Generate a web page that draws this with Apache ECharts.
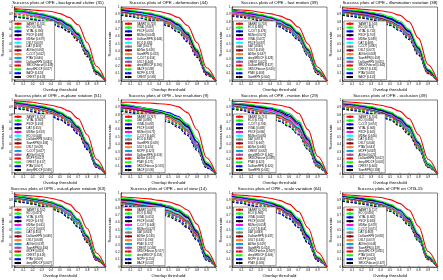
<!DOCTYPE html>
<html><head><meta charset="utf-8">
<script src="https://cdn.jsdelivr.net/npm/echarts@6/dist/echarts.min.js"></script>
<style>html,body{margin:0;padding:0;background:#fff}#c{width:443px;height:280px}</style>
</head><body><div id="c"></div><script>
const thresholds=[0,0.1,0.2,0.3,0.4,0.5,0.6,0.7,0.8,0.9,1];
const tickLabels=['0','0.1','0.2','0.3','0.4','0.5','0.6','0.7','0.8','0.9','1'];
const titles=['Success plots of OPE - background clutter (31)','Success plots of OPE - deformation (44)','Success plots of OPE - fast motion (39)','Success plots of OPE - illumination variation (38)','Success plots of OPE - in-plane rotation (51)','Success plots of OPE - low resolution (9)','Success plots of OPE - motion blur (29)','Success plots of OPE - occlusion (49)','Success plots of OPE - out-of-plane rotation (63)','Success plots of OPE - out of view (14)','Success plots of OPE - scale variation (64)','Success plots of OPE on OTB-15'];

const bcNames=['SANRT','ECO','VITAL','PSCF','MDNet','DSLT','DAT','ADNet','C-COT','PTAV','DaSiamRPN','SRDCFdecon','deepSRDCF','BACF','CREST'];
const bcScores=['0.741','0.700','0.690','0.688','0.679','0.670','0.668','0.661','0.652','0.646','0.643','0.639','0.627','0.620','0.618'];
const bcValues=[
[0.98,0.97,0.96,0.95,0.94,0.91,0.86,0.76,0.52,0.2,0],
[0.96,0.95,0.93,0.91,0.88,0.84,0.77,0.65,0.42,0.14,0],
[0.95,0.94,0.92,0.9,0.87,0.83,0.76,0.64,0.41,0.13,0],
[0.97,0.95,0.93,0.9,0.87,0.82,0.75,0.63,0.4,0.12,0],
[0.95,0.93,0.91,0.89,0.86,0.81,0.74,0.62,0.4,0.13,0],
[0.94,0.92,0.9,0.88,0.85,0.8,0.73,0.61,0.39,0.12,0],
[0.96,0.94,0.91,0.88,0.85,0.8,0.72,0.6,0.37,0.11,0],
[0.95,0.93,0.9,0.87,0.84,0.79,0.72,0.6,0.38,0.12,0],
[0.93,0.91,0.89,0.87,0.84,0.79,0.71,0.59,0.37,0.11,0],
[0.94,0.92,0.89,0.86,0.83,0.78,0.7,0.58,0.37,0.12,0],
[0.93,0.91,0.88,0.85,0.82,0.77,0.7,0.58,0.36,0.1,0],
[0.91,0.89,0.87,0.85,0.82,0.77,0.69,0.57,0.36,0.11,0],
[0.89,0.87,0.85,0.83,0.8,0.76,0.69,0.57,0.36,0.11,0],
[0.88,0.86,0.84,0.81,0.78,0.74,0.67,0.56,0.35,0.1,0],
[0.87,0.85,0.83,0.81,0.78,0.73,0.66,0.54,0.33,0.09,0]];

const defNames=['SANRT','VITAL','PSCF','MDNet','DaSiamRPN','ECO','DAT','ADNet','SiamRPN','C-COT','DSLT','deepSRDCF','BACF','MCPF','CREST'];
const defScores=['0.728','0.667','0.655','0.649','0.646','0.633','0.627','0.626','0.623','0.614','0.606','0.590','0.588','0.578','0.569'];
const defValues=[
[0.99,0.98,0.97,0.96,0.94,0.91,0.86,0.75,0.52,0.18,0],
[0.98,0.96,0.94,0.92,0.89,0.85,0.78,0.66,0.43,0.13,0],
[0.97,0.95,0.93,0.91,0.88,0.84,0.77,0.65,0.42,0.12,0],
[0.96,0.94,0.93,0.91,0.88,0.83,0.76,0.63,0.4,0.12,0],
[0.97,0.95,0.93,0.9,0.87,0.82,0.75,0.62,0.39,0.11,0],
[0.95,0.93,0.91,0.89,0.86,0.81,0.74,0.62,0.4,0.12,0],
[0.96,0.94,0.92,0.89,0.86,0.81,0.73,0.6,0.38,0.11,0],
[0.94,0.92,0.9,0.88,0.85,0.8,0.73,0.6,0.38,0.1,0],
[0.95,0.93,0.9,0.87,0.84,0.79,0.72,0.6,0.37,0.1,0],
[0.94,0.92,0.9,0.87,0.83,0.78,0.71,0.59,0.37,0.11,0],
[0.93,0.91,0.89,0.86,0.83,0.78,0.7,0.58,0.36,0.1,0],
[0.92,0.9,0.88,0.85,0.82,0.77,0.7,0.57,0.35,0.1,0],
[0.91,0.89,0.86,0.84,0.81,0.76,0.68,0.56,0.35,0.1,0],
[0.9,0.88,0.85,0.83,0.8,0.75,0.67,0.55,0.34,0.09,0],
[0.89,0.87,0.85,0.82,0.79,0.74,0.66,0.53,0.32,0.08,0]];

const fmNames=['SANRT','ECO','C-COT','MDNet','VITAL','PSCF','DAT','DSLT','ADNet','deepSRDCF','CREST','DaSiamRPN','SRDCFdecon','PTAV','SiamRPN'];
const fmScores=['0.718','0.683','0.676','0.675','0.672','0.667','0.660','0.656','0.647','0.628','0.621','0.617','0.610','0.608','0.604'];
const fmValues=[
[0.97,0.96,0.95,0.93,0.91,0.88,0.83,0.73,0.5,0.19,0],
[0.95,0.94,0.92,0.9,0.87,0.83,0.77,0.66,0.44,0.15,0],
[0.95,0.93,0.91,0.89,0.86,0.82,0.76,0.65,0.43,0.14,0],
[0.96,0.94,0.92,0.89,0.86,0.82,0.75,0.64,0.42,0.14,0],
[0.94,0.92,0.9,0.88,0.85,0.81,0.75,0.63,0.41,0.13,0],
[0.94,0.92,0.9,0.87,0.84,0.8,0.74,0.62,0.4,0.13,0],
[0.93,0.91,0.89,0.86,0.83,0.79,0.73,0.62,0.4,0.12,0],
[0.93,0.91,0.88,0.86,0.83,0.78,0.72,0.61,0.39,0.12,0],
[0.92,0.9,0.88,0.85,0.82,0.78,0.71,0.6,0.38,0.11,0],
[0.92,0.9,0.87,0.85,0.82,0.77,0.71,0.59,0.38,0.12,0],
[0.91,0.89,0.87,0.84,0.81,0.76,0.7,0.58,0.37,0.11,0],
[0.9,0.88,0.86,0.84,0.81,0.76,0.69,0.58,0.37,0.11,0],
[0.9,0.88,0.85,0.83,0.8,0.75,0.68,0.57,0.36,0.1,0],
[0.89,0.87,0.85,0.82,0.79,0.74,0.67,0.56,0.35,0.1,0],
[0.88,0.86,0.84,0.81,0.78,0.73,0.66,0.55,0.34,0.09,0]];

const ivNames=['SANRT','ECO','VITAL','PSCF','MDNet','DAT','C-COT','DSLT','ADNet','SiamRPN','DaSiamRPN','SRDCFdecon','CREST','PTAV','BACF'];
const ivScores=['0.740','0.713','0.710','0.703','0.689','0.688','0.682','0.672','0.669','0.659','0.655','0.640','0.631','0.628','0.613'];
const ivValues=[
[0.99,0.98,0.97,0.96,0.95,0.93,0.89,0.8,0.58,0.22,0],
[0.97,0.96,0.95,0.93,0.91,0.87,0.81,0.7,0.47,0.16,0],
[0.96,0.95,0.94,0.92,0.89,0.85,0.79,0.68,0.45,0.15,0],
[0.97,0.95,0.93,0.91,0.88,0.84,0.78,0.67,0.44,0.14,0],
[0.95,0.94,0.92,0.9,0.88,0.84,0.77,0.66,0.43,0.14,0],
[0.96,0.94,0.92,0.9,0.87,0.83,0.76,0.65,0.42,0.13,0],
[0.95,0.93,0.91,0.89,0.86,0.82,0.76,0.64,0.42,0.13,0],
[0.94,0.92,0.9,0.88,0.85,0.81,0.75,0.63,0.41,0.12,0],
[0.95,0.93,0.91,0.88,0.85,0.8,0.74,0.62,0.4,0.12,0],
[0.93,0.91,0.89,0.87,0.84,0.8,0.73,0.62,0.4,0.13,0],
[0.93,0.91,0.89,0.86,0.83,0.79,0.72,0.61,0.39,0.12,0],
[0.92,0.9,0.88,0.86,0.83,0.78,0.71,0.6,0.38,0.11,0],
[0.91,0.89,0.87,0.85,0.82,0.77,0.7,0.59,0.38,0.11,0],
[0.9,0.88,0.86,0.84,0.81,0.76,0.69,0.58,0.37,0.1,0],
[0.89,0.87,0.85,0.83,0.8,0.75,0.68,0.56,0.35,0.1,0]];

const iprNames=['SANRT','VITAL','PSCF','DAT','MDNet','ECO','DaSiamRPN','SiamRPN','DSLT','C-COT','ADNet','MCPF','CREST','PTAV','deepSRDCF'];
const iprScores=['0.720','0.663','0.658','0.655','0.653','0.648','0.645','0.633','0.628','0.627','0.625','0.621','0.617','0.607','0.569'];
const iprValues=[
[0.99,0.98,0.97,0.95,0.93,0.9,0.85,0.75,0.53,0.2,0],
[0.98,0.96,0.94,0.92,0.89,0.84,0.77,0.65,0.43,0.14,0],
[0.97,0.95,0.93,0.91,0.88,0.83,0.76,0.64,0.42,0.13,0],
[0.97,0.95,0.93,0.9,0.87,0.82,0.75,0.63,0.41,0.13,0],
[0.96,0.94,0.92,0.9,0.87,0.82,0.75,0.62,0.4,0.12,0],
[0.96,0.94,0.92,0.89,0.86,0.81,0.74,0.62,0.4,0.13,0],
[0.95,0.93,0.91,0.89,0.86,0.81,0.73,0.61,0.39,0.12,0],
[0.95,0.93,0.9,0.88,0.85,0.8,0.73,0.6,0.39,0.12,0],
[0.94,0.92,0.9,0.87,0.84,0.79,0.72,0.6,0.38,0.11,0],
[0.94,0.92,0.89,0.87,0.84,0.79,0.71,0.59,0.37,0.11,0],
[0.93,0.91,0.89,0.86,0.83,0.78,0.71,0.58,0.37,0.11,0],
[0.92,0.9,0.87,0.85,0.82,0.77,0.69,0.57,0.36,0.1,0],
[0.91,0.89,0.87,0.84,0.81,0.76,0.69,0.57,0.36,0.1,0],
[0.9,0.88,0.85,0.82,0.79,0.74,0.67,0.55,0.34,0.09,0],
[0.89,0.87,0.84,0.81,0.78,0.73,0.66,0.54,0.33,0.09,0]];

const lrNames=['SANRT','DAT','VITAL','PSCF','MDNet','C-COT','ECO','SiamRPN','DSLT','MCPF','DaSiamRPN','ADNet','PTAV','SRDCFdecon','BACF'];
const lrScores=['0.767','0.698','0.692','0.688','0.671','0.645','0.636','0.629','0.624','0.623','0.616','0.613','0.571','0.553','0.536'];
const lrValues=[
[0.97,0.97,0.96,0.96,0.95,0.94,0.91,0.83,0.6,0.22,0],
[0.95,0.93,0.9,0.88,0.85,0.81,0.76,0.68,0.48,0.16,0],
[0.93,0.92,0.9,0.88,0.86,0.83,0.78,0.66,0.44,0.14,0],
[0.94,0.92,0.9,0.87,0.84,0.8,0.74,0.64,0.43,0.13,0],
[0.92,0.9,0.88,0.86,0.84,0.8,0.75,0.63,0.4,0.12,0],
[0.95,0.93,0.9,0.87,0.83,0.79,0.73,0.62,0.4,0.12,0],
[0.91,0.9,0.88,0.86,0.83,0.79,0.72,0.6,0.38,0.11,0],
[0.9,0.88,0.86,0.84,0.82,0.78,0.72,0.6,0.39,0.12,0],
[0.93,0.91,0.88,0.85,0.81,0.76,0.7,0.59,0.38,0.11,0],
[0.89,0.88,0.86,0.84,0.81,0.77,0.71,0.59,0.37,0.1,0],
[0.91,0.89,0.86,0.83,0.8,0.76,0.69,0.58,0.36,0.1,0],
[0.88,0.86,0.84,0.82,0.79,0.75,0.68,0.57,0.37,0.11,0],
[0.87,0.85,0.83,0.8,0.77,0.73,0.67,0.56,0.35,0.1,0],
[0.86,0.84,0.82,0.79,0.76,0.72,0.65,0.54,0.34,0.09,0],
[0.85,0.83,0.8,0.77,0.74,0.7,0.63,0.52,0.32,0.08,0]];

const mbNames=['SANRT','ECO','C-COT','VITAL','PSCF','MDNet','DAT','DSLT','ADNet','CREST','deepSRDCF','SRDCFdecon','PTAV','DaSiamRPN','SiamRPN'];
const mbScores=['0.751','0.720','0.706','0.688','0.686','0.680','0.673','0.667','0.666','0.662','0.642','0.639','0.623','0.620','0.611'];
const mbValues=[
[0.98,0.98,0.97,0.96,0.95,0.93,0.9,0.82,0.6,0.24,0],
[0.96,0.95,0.94,0.92,0.9,0.87,0.82,0.72,0.5,0.18,0],
[0.96,0.95,0.93,0.91,0.89,0.86,0.8,0.7,0.48,0.17,0],
[0.95,0.94,0.92,0.9,0.88,0.84,0.78,0.68,0.46,0.16,0],
[0.95,0.93,0.91,0.89,0.86,0.82,0.76,0.66,0.44,0.15,0],
[0.94,0.92,0.9,0.88,0.85,0.81,0.75,0.64,0.43,0.14,0],
[0.94,0.92,0.9,0.87,0.84,0.8,0.74,0.63,0.42,0.14,0],
[0.93,0.91,0.89,0.87,0.84,0.79,0.73,0.62,0.41,0.13,0],
[0.93,0.91,0.88,0.86,0.83,0.78,0.72,0.61,0.4,0.13,0],
[0.92,0.9,0.88,0.85,0.82,0.78,0.71,0.6,0.39,0.12,0],
[0.92,0.9,0.87,0.84,0.81,0.76,0.7,0.59,0.38,0.12,0],
[0.91,0.89,0.86,0.83,0.8,0.75,0.68,0.57,0.37,0.11,0],
[0.9,0.88,0.85,0.82,0.78,0.73,0.66,0.55,0.35,0.1,0],
[0.89,0.87,0.84,0.81,0.77,0.72,0.65,0.54,0.34,0.1,0],
[0.88,0.86,0.83,0.8,0.76,0.71,0.64,0.53,0.33,0.09,0]];

const occNames=['SANRT','ECO','C-COT','VITAL','PSCF','MDNet','DAT','DSLT','PTAV','MCPF','ADNet','DaSiamRPN','deepSRDCF','CREST','SiamRPN'];
const occScores=['0.704','0.680','0.674','0.666','0.665','0.656','0.651','0.646','0.643','0.628','0.625','0.612','0.603','0.600','0.584'];
const occValues=[
[0.98,0.97,0.96,0.95,0.93,0.9,0.85,0.75,0.53,0.2,0],
[0.96,0.95,0.93,0.91,0.88,0.84,0.77,0.66,0.44,0.14,0],
[0.96,0.94,0.92,0.9,0.87,0.83,0.76,0.65,0.43,0.14,0],
[0.95,0.94,0.92,0.89,0.86,0.82,0.75,0.64,0.42,0.13,0],
[0.95,0.93,0.91,0.89,0.86,0.81,0.74,0.63,0.41,0.13,0],
[0.95,0.93,0.91,0.88,0.85,0.81,0.74,0.62,0.4,0.12,0],
[0.94,0.92,0.9,0.88,0.85,0.8,0.73,0.61,0.4,0.12,0],
[0.94,0.92,0.9,0.87,0.84,0.79,0.72,0.61,0.39,0.12,0],
[0.93,0.91,0.89,0.87,0.84,0.79,0.72,0.6,0.38,0.11,0],
[0.93,0.91,0.89,0.86,0.83,0.78,0.71,0.59,0.38,0.11,0],
[0.92,0.9,0.88,0.86,0.83,0.78,0.7,0.58,0.37,0.11,0],
[0.91,0.89,0.87,0.85,0.82,0.77,0.69,0.57,0.36,0.1,0],
[0.9,0.88,0.86,0.84,0.81,0.76,0.68,0.56,0.35,0.1,0],
[0.89,0.87,0.85,0.82,0.79,0.74,0.67,0.55,0.34,0.09,0],
[0.88,0.86,0.84,0.81,0.78,0.73,0.65,0.53,0.33,0.09,0]];

const oprNames=['SANRT','ECO','VITAL','PSCF','MDNet','C-COT','DAT','DaSiamRPN','DSLT','ADNet','SiamRPN','MCPF','CREST','PTAV','deepSRDCF'];
const oprScores=['0.702','0.673','0.670','0.670','0.661','0.653','0.650','0.649','0.638','0.637','0.630','0.619','0.616','0.609','0.607'];
const oprValues=[
[0.98,0.97,0.96,0.95,0.93,0.9,0.85,0.74,0.52,0.19,0],
[0.97,0.95,0.93,0.91,0.88,0.84,0.77,0.65,0.43,0.14,0],
[0.96,0.95,0.93,0.91,0.88,0.83,0.76,0.64,0.42,0.13,0],
[0.96,0.94,0.92,0.9,0.87,0.83,0.76,0.64,0.41,0.13,0],
[0.96,0.94,0.92,0.9,0.87,0.82,0.75,0.63,0.41,0.12,0],
[0.95,0.93,0.91,0.89,0.86,0.81,0.74,0.62,0.4,0.12,0],
[0.95,0.93,0.91,0.88,0.85,0.8,0.73,0.61,0.39,0.12,0],
[0.94,0.92,0.9,0.88,0.85,0.8,0.73,0.61,0.39,0.11,0],
[0.94,0.92,0.9,0.87,0.84,0.79,0.72,0.6,0.38,0.11,0],
[0.93,0.91,0.89,0.87,0.84,0.79,0.71,0.59,0.38,0.11,0],
[0.93,0.91,0.89,0.86,0.83,0.78,0.71,0.59,0.37,0.11,0],
[0.92,0.9,0.88,0.85,0.82,0.77,0.7,0.58,0.36,0.1,0],
[0.91,0.89,0.87,0.84,0.81,0.76,0.69,0.57,0.36,0.1,0],
[0.9,0.88,0.86,0.83,0.8,0.75,0.67,0.55,0.34,0.09,0],
[0.89,0.87,0.85,0.82,0.79,0.74,0.66,0.54,0.33,0.09,0]];

const ovNames=['SANRT','ECO','VITAL','PSCF','C-COT','MDNet','DAT','ADNet','DSLT','PTAV','CREST','SRDCFdecon','deepSRDCF','MCPF','BACF'];
const ovScores=['0.678','0.660','0.651','0.646','0.644','0.627','0.618','0.595','0.590','0.572','0.568','0.557','0.553','0.550','0.532'];
const ovValues=[
[0.95,0.94,0.93,0.92,0.9,0.88,0.84,0.77,0.58,0.22,0],
[0.93,0.92,0.9,0.88,0.86,0.83,0.78,0.7,0.5,0.17,0],
[0.92,0.91,0.89,0.87,0.85,0.82,0.77,0.69,0.49,0.16,0],
[0.91,0.9,0.88,0.86,0.84,0.8,0.75,0.67,0.47,0.15,0],
[0.9,0.89,0.87,0.85,0.83,0.8,0.75,0.66,0.46,0.15,0],
[0.9,0.88,0.86,0.84,0.82,0.78,0.73,0.65,0.46,0.14,0],
[0.89,0.87,0.85,0.83,0.81,0.77,0.72,0.63,0.45,0.14,0],
[0.88,0.86,0.84,0.82,0.8,0.76,0.71,0.62,0.44,0.13,0],
[0.88,0.86,0.84,0.82,0.79,0.75,0.7,0.61,0.43,0.13,0],
[0.87,0.85,0.83,0.81,0.78,0.74,0.69,0.6,0.43,0.12,0],
[0.86,0.84,0.82,0.8,0.77,0.73,0.68,0.6,0.42,0.12,0],
[0.86,0.84,0.82,0.79,0.76,0.72,0.67,0.58,0.41,0.11,0],
[0.85,0.83,0.81,0.78,0.75,0.71,0.66,0.57,0.4,0.11,0],
[0.84,0.82,0.8,0.77,0.74,0.7,0.64,0.55,0.38,0.1,0],
[0.83,0.81,0.79,0.76,0.73,0.68,0.62,0.53,0.36,0.09,0]];

const svNames=['SANRT','ECO','VITAL','PSCF','MDNet','C-COT','DAT','DaSiamRPN','DSLT','ADNet','SiamRPN','SRDCFdecon','deepSRDCF','MCPF','PTAV'];
const svScores=['0.705','0.668','0.662','0.659','0.658','0.654','0.649','0.637','0.631','0.629','0.624','0.607','0.606','0.604','0.586'];
const svValues=[
[0.98,0.97,0.96,0.95,0.93,0.9,0.85,0.75,0.53,0.2,0],
[0.97,0.95,0.93,0.91,0.88,0.84,0.77,0.66,0.44,0.14,0],
[0.96,0.94,0.92,0.9,0.87,0.83,0.76,0.64,0.42,0.13,0],
[0.96,0.94,0.92,0.9,0.87,0.82,0.75,0.63,0.41,0.13,0],
[0.95,0.93,0.91,0.89,0.86,0.81,0.74,0.62,0.4,0.12,0],
[0.95,0.93,0.91,0.88,0.85,0.81,0.74,0.62,0.4,0.12,0],
[0.94,0.92,0.9,0.88,0.85,0.8,0.73,0.61,0.39,0.12,0],
[0.94,0.92,0.9,0.87,0.84,0.79,0.72,0.6,0.39,0.11,0],
[0.93,0.91,0.89,0.87,0.84,0.79,0.72,0.6,0.38,0.11,0],
[0.93,0.91,0.89,0.86,0.83,0.78,0.71,0.59,0.37,0.11,0],
[0.92,0.9,0.88,0.86,0.83,0.78,0.7,0.58,0.37,0.1,0],
[0.91,0.89,0.87,0.84,0.81,0.76,0.69,0.57,0.36,0.1,0],
[0.9,0.88,0.86,0.83,0.8,0.75,0.68,0.56,0.35,0.1,0],
[0.89,0.87,0.84,0.81,0.78,0.73,0.66,0.54,0.33,0.09,0],
[0.88,0.86,0.83,0.8,0.77,0.72,0.65,0.53,0.32,0.08,0]];

const otbNames=['SANRT','ECO','VITAL','PSCF','MDNet','C-COT','DAT','DaSiamRPN','DSLT','ADNet','SiamRPN','deepSRDCF','PTAV','MCPF','SRDCFdecon'];
const otbScores=['0.717','0.691','0.682','0.680','0.678','0.671','0.668','0.658','0.657','0.646','0.637','0.635','0.631','0.629','0.627'];
const otbValues=[
[0.98,0.97,0.96,0.95,0.94,0.91,0.86,0.77,0.55,0.21,0],
[0.97,0.95,0.94,0.92,0.89,0.85,0.78,0.67,0.45,0.15,0],
[0.96,0.95,0.93,0.91,0.88,0.84,0.77,0.66,0.44,0.14,0],
[0.96,0.94,0.92,0.9,0.88,0.83,0.77,0.65,0.43,0.14,0],
[0.96,0.94,0.92,0.9,0.87,0.83,0.76,0.64,0.42,0.13,0],
[0.95,0.93,0.91,0.89,0.86,0.82,0.75,0.64,0.42,0.13,0],
[0.95,0.93,0.91,0.89,0.86,0.81,0.74,0.63,0.41,0.13,0],
[0.94,0.92,0.9,0.88,0.85,0.81,0.74,0.62,0.4,0.12,0],
[0.94,0.92,0.9,0.88,0.85,0.8,0.73,0.61,0.4,0.12,0],
[0.93,0.92,0.9,0.87,0.84,0.8,0.73,0.61,0.39,0.12,0],
[0.93,0.91,0.89,0.87,0.84,0.79,0.72,0.6,0.39,0.12,0],
[0.92,0.9,0.88,0.86,0.83,0.78,0.71,0.59,0.38,0.11,0],
[0.91,0.89,0.87,0.85,0.82,0.77,0.7,0.58,0.37,0.11,0],
[0.9,0.88,0.86,0.84,0.81,0.76,0.69,0.57,0.36,0.1,0],
[0.89,0.87,0.85,0.83,0.8,0.75,0.68,0.56,0.35,0.1,0]];

const panels=[
  {names:bcNames,scores:bcScores,values:bcValues},
  {names:defNames,scores:defScores,values:defValues},
  {names:fmNames,scores:fmScores,values:fmValues},
  {names:ivNames,scores:ivScores,values:ivValues},
  {names:iprNames,scores:iprScores,values:iprValues},
  {names:lrNames,scores:lrScores,values:lrValues},
  {names:mbNames,scores:mbScores,values:mbValues},
  {names:occNames,scores:occScores,values:occValues},
  {names:oprNames,scores:oprScores,values:oprValues},
  {names:ovNames,scores:ovScores,values:ovValues},
  {names:svNames,scores:svScores,values:svValues},
  {names:otbNames,scores:otbScores,values:otbValues}
];

// styles
const lineColors=['#ff0000','#00ff00','#0000ff','#000000','#ff00ff','#00ffff','#808080','#880015','#ff7f27','#00a2e8','#a349a4','#ff0000','#00ff00','#0000ff','#000000'];
const dashedFrom=11;
const colLeft=[10.5,121,232,342.5];
const rowTop=[7,100,193];
const gridW=95, gridH=74;
const FONT='"Liberation Sans", Arial, sans-serif';

const option={backgroundColor:'#fff',animation:false,title:[],grid:[],xAxis:[],yAxis:[],legend:[],series:[]};
panels.forEach((pn,p)=>{
  const c=p%4, r=Math.floor(p/4);
  const L=colLeft[c], T=rowTop[r];
  option.title.push({text:titles[p],left:L+gridW/2,top:T-6.2,textAlign:'center',padding:0,
    textStyle:{fontSize:4.4,fontWeight:'normal',color:'#000',fontFamily:FONT}});
  option.grid.push({left:L,top:T,width:gridW,height:gridH,show:true,borderColor:'#000',borderWidth:0.5,backgroundColor:'#fff',containLabel:false});
  const axisCommon={gridIndex:p,type:'value',min:0,max:1,interval:0.1,
    axisLine:{show:true,lineStyle:{color:'#000',width:0.5}},
    axisTick:{show:true,inside:true,length:1.2,lineStyle:{color:'#000',width:0.4}},
    axisLabel:{fontSize:2.9,color:'#000',margin:1.5,fontFamily:FONT,formatter:v=>tickLabels[Math.round(v*10)]},
    splitLine:{show:false},nameLocation:'middle',
    nameTextStyle:{fontSize:4.3,color:'#000',fontFamily:FONT}};
  option.xAxis.push(Object.assign({},axisCommon,{name:'Overlap threshold',nameGap:6.5}));
  option.yAxis.push(Object.assign({},axisCommon,{name:'Success rate',nameGap:7.5}));
  const legendNames=pn.names.map((n,i)=>n+' ['+pn.scores[i]+']');
  option.legend.push({data:legendNames,orient:'vertical',left:L+1.5,top:T+14,
    itemWidth:7,itemHeight:3,itemGap:0.3,padding:[1,1.5],
    backgroundColor:'#fff',borderColor:'#000',borderWidth:0.4,selectedMode:false,
    textStyle:{fontSize:2.8,lineHeight:3.5,color:'#000',fontFamily:FONT}});
  for(let i=pn.names.length-1;i>=0;i--){
    option.series.push({type:'line',name:legendNames[i],xAxisIndex:p,yAxisIndex:p,
      data:thresholds.map((x,k)=>[x,pn.values[i][k]]),
      smooth:0.35,smoothMonotone:'x',symbol:'none',silent:true,
      color:lineColors[i],
      lineStyle:{color:lineColors[i],width:1.1,type:i>=dashedFrom?[2.5,1.5]:'solid'}});
  }
});
const chart=echarts.init(document.getElementById('c'),null,{renderer:'canvas'});
chart.setOption(option);
</script></body></html>
